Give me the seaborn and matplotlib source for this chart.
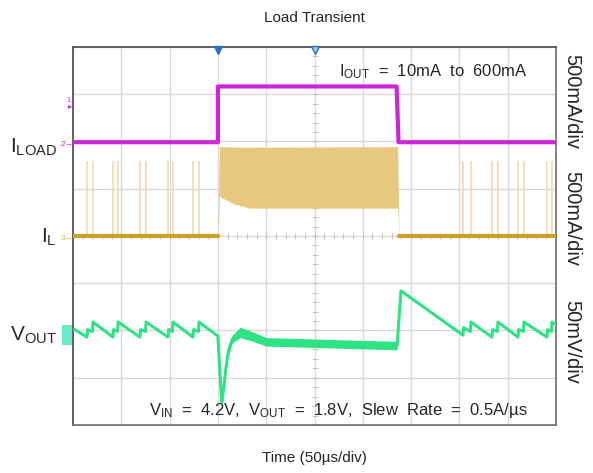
import numpy as np
import pandas as pd
import matplotlib
matplotlib.use("Agg")
import matplotlib.pyplot as plt
from matplotlib.patches import Rectangle
import seaborn as sns

# ---------------- data (time in µs) ----------------
# load current step (mA)
iload_t = [0, 150, 150, 335, 337, 500]
iload_ma = [10, 10, 600, 600, 10, 10]

# inductor current: switching envelope while loaded (mA)
il_band_t = [150, 151.5, 154, 168, 183, 335, 336, 337.5]
il_band_hi = [0, 945, 945, 940, 940, 945, 955, 0]
il_band_lo = [0, 420, 405, 335, 295, 295, 300, 0]
# pulse-skipping bursts at light load (µs) and their peak current (mA)
il_pulse_t = [14.5, 20.7, 41.4, 46.6, 69.3, 75.6, 98.3, 103.5, 124.2, 130.4,
              403.7, 411.9, 433.7, 439.9, 460.6, 466.8, 490.6, 495.8]
il_pulse_peak = 790

# output voltage deviation from 1.8 V (mV)
vout_t = [0, 14.5, 15.2, 20.2, 20.7, 41.4, 42.1, 46.1, 46.6, 69.3, 70.0, 75.1, 75.6,
          98.3, 99.0, 103.0, 103.5, 124.2, 124.9, 129.9, 130.4,
          150, 152, 154, 156, 158, 161, 165, 170, 175, 185, 200, 220, 250, 335.5, 339.5,
          403.7, 404.4, 411.4, 411.9, 433.7, 434.4, 439.4, 439.9,
          460.6, 461.3, 466.3, 466.8, 490.6, 491.3, 495.3, 495.8, 500]
vout_mv = [2, -7, 1, -1, 9, -7, 1, -1, 9, -7, 1, -1, 9,
           -7, 1, -1, 9, -7, 1, -1, 9,
           -6, -42, -76, -62, -42, -21, -9, -3, -1.5, -6, -12, -15.5, -16, -16, 42,
           -5, 3, -1, 9, -7, 1, -1, 9,
           -7, 1, -1, 9, -7, 1, -1, 9, 6]
# ripple envelope half-width while loaded (mV)
vout_band_t = [160, 165, 173, 185, 200, 335.5]
vout_band_half = [2, 4, 5.5, 5, 4.5, 4.5]

# ---------------- scope scaling (divisions) ----------------
MA_PER_DIV = 500.0
MV_PER_DIV = 50.0
ILOAD_POS = 1.965
IL_POS = 0.0
VOUT_POS = -2.0

C_ILOAD = "#D024DA"
C_IL = "#C9A128"
C_IL_BAND = "#E7C87E"
C_IL_PULSE = "#EFD9A6"
C_VOUT = "#2FE283"
GRID = "#DADADA"

W, H = 593, 473


def fx(x):
    return x / W


def fy(y):
    return 1 - y / H


sns.set_theme(style="white")
plt.rcParams['font.family'] = ['Liberation Sans', 'DejaVu Sans']
plt.rcParams['mathtext.fontset'] = 'custom'
plt.rcParams['mathtext.rm'] = 'Liberation Sans'
plt.rcParams['mathtext.it'] = 'Liberation Sans:italic'
plt.rcParams['mathtext.bf'] = 'Liberation Sans:bold'

fig = plt.figure(figsize=(W / 100, H / 100), dpi=100)
ax = fig.add_axes([fx(73), fy(425), (556 - 73) / W, (425 - 47) / H])

ax.set_xlim(0, 500)
ax.set_ylim(-4, 4)
ax.set_xticks(np.arange(0, 501, 50))
ax.set_yticks(np.arange(-4, 4.01, 1))
ax.grid(True, color=GRID, lw=1.0)
ax.tick_params(labelbottom=False, labelleft=False, length=0)
for s in ax.spines.values():
    s.set_color("#777777")
    s.set_linewidth(1.3)
    s.set_visible(True)
ax.spines['top'].set_color("#555555")
ax.spines['left'].set_color("#555555")

# minor ticks along the centre cross-hair
mx = np.arange(0, 500.1, 10)
ax.plot(mx, np.zeros_like(mx), ls="none", marker="|", ms=4, color="#C4C4C4", mew=0.8)
my = np.arange(-4, 4.01, 0.2)
ax.plot(np.full_like(my, 250), my, ls="none", marker="_", ms=4, color="#C4C4C4", mew=0.8)

# inductor current: pulse-skipping spikes
ax.vlines(il_pulse_t, IL_POS, IL_POS + il_pulse_peak / MA_PER_DIV,
          color=C_IL_PULSE, lw=1.1, zorder=2)
# inductor current: switching band while loaded
bt = np.array(il_band_t)
ax.fill_between(bt, IL_POS + np.array(il_band_lo) / MA_PER_DIV,
                IL_POS + np.array(il_band_hi) / MA_PER_DIV,
                color=C_IL_BAND, lw=0, zorder=3)
# inductor current baseline
base = pd.DataFrame({"t": [0, 150, np.nan, 337.5, 500],
                     "y": [IL_POS] * 5})
ax.plot(base["t"], base["y"], color=C_IL, lw=3, zorder=4)

# load current
df_iload = pd.DataFrame({"t": iload_t,
                         "y": ILOAD_POS + np.array(iload_ma) / MA_PER_DIV})
sns.lineplot(data=df_iload, x="t", y="y", ax=ax, sort=False, estimator=None,
             color=C_ILOAD, lw=3, zorder=5)

# output voltage
df_vout = pd.DataFrame({"t": vout_t,
                        "y": VOUT_POS + np.array(vout_mv) / MV_PER_DIV})
sns.lineplot(data=df_vout, x="t", y="y", ax=ax, sort=False, estimator=None,
             color=C_VOUT, lw=2.2, zorder=5)
vc = np.interp(vout_band_t, vout_t, vout_mv)
vh = np.array(vout_band_half)
ax.fill_between(vout_band_t, VOUT_POS + (vc - vh) / MV_PER_DIV,
                VOUT_POS + (vc + vh) / MV_PER_DIV, color=C_VOUT, lw=0, zorder=5)

ax.set_xlabel("")
ax.set_ylabel("")

# trigger / position markers on the top edge
ax.plot([150], [3.93], marker="v", ms=6, color="#2A6FBF", clip_on=False, zorder=8)
ax.plot([250], [3.93], marker="v", ms=6, mfc="#9EC3EA", mec="#2A6FBF", clip_on=False, zorder=8)

# channel markers on the left edge
fig.text(fx(69), fy(101), "1", color=C_ILOAD, fontsize=5.5, ha="center", va="center")
fig.text(fx(70), fy(107), "\u25B8", color=C_ILOAD, fontsize=6, ha="center", va="center")
fig.text(fx(67), fy(144), "2\u2192", color=C_ILOAD, fontsize=6, ha="center", va="center")
fig.text(fx(67), fy(239), "3\u2192", color="#E0B850", fontsize=6, ha="center", va="center")
fig.patches.append(Rectangle((fx(62), fy(345)), 10 / W, 20 / H, transform=fig.transFigure,
                             facecolor="#4EE8C0", edgecolor="none", alpha=0.85))

# trace labels
fig.text(fx(57), fy(153), r"I$_{\mathrm{LOAD}}$", fontsize=15, ha="right", va="baseline")
fig.text(fx(57), fy(243), r"I$_{\mathrm{L}}$", fontsize=15, ha="right", va="baseline")
fig.text(fx(57), fy(341), r"V$_{\mathrm{OUT}}$", fontsize=15, ha="right", va="baseline")

# vertical scale labels
fig.text(fx(572), fy(101), "500mA/div", fontsize=14.5, rotation=-90, ha="center", va="center")
fig.text(fx(572), fy(218), "500mA/div", fontsize=14.5, rotation=-90, ha="center", va="center")
fig.text(fx(572), fy(342), "50mV/div", fontsize=14.5, rotation=-90, ha="center", va="center")

# condition annotations
fig.text(fx(433), fy(76.5), r"I$_{\mathrm{OUT}}$  =  10mA  to  600mA", fontsize=12,
         ha="center", va="baseline")
fig.text(fx(338), fy(415), r"V$_{\mathrm{IN}}$  =  4.2V,  V$_{\mathrm{OUT}}$  =  1.8V,  Slew  Rate  =  0.5A/µs",
         fontsize=12, ha="center", va="baseline")

# title and time base
fig.text(fx(314), fy(18), "Load Transient", fontsize=11, ha="center", va="center")
fig.text(fx(314), fy(458), "Time (50µs/div)", fontsize=11, ha="center", va="center")

fig.savefig("out.png", dpi=100)
